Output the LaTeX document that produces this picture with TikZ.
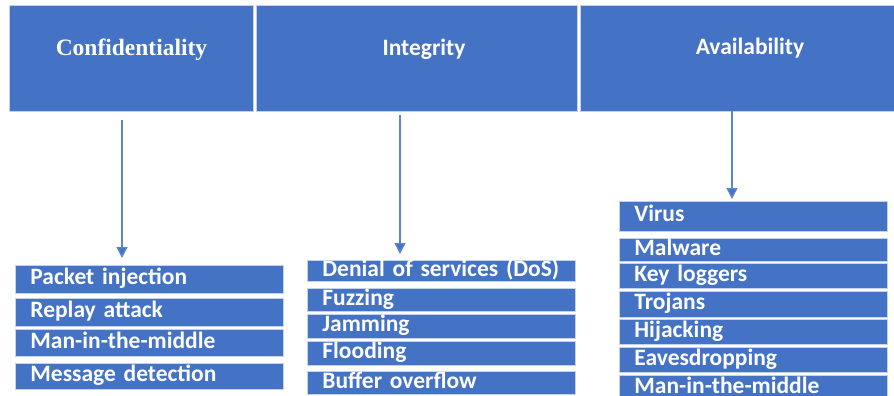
\documentclass[tikz,border=0pt]{standalone}
\usepackage{fontspec}
\setmainfont{Carlito}
\newfontfamily\serifbold{Liberation Serif}
\usetikzlibrary{arrows.meta}
\definecolor{boxblue}{HTML}{4472C4}
\definecolor{edgeblue}{HTML}{C5D2EC}
\definecolor{lineblue}{HTML}{5B86CF}
\tikzset{
  hdr/.style={fill=boxblue, draw=edgeblue, line width=1pt, anchor=north west, inner sep=0pt},
  htxt/.style={text=white, font=\fontsize{23.5}{25}\selectfont\bfseries, inner sep=0pt, anchor=base},
  hser/.style={text=white, font=\serifbold\fontsize{23.5}{25}\selectfont\bfseries, inner sep=0pt, anchor=base},
  row/.style={fill=boxblue, draw=edgeblue, line width=0.8pt, anchor=north west, inner xsep=15pt, inner ysep=0pt,
    text=white, font=\fontsize{23.5}{24}\selectfont\bfseries, align=left, text height=16pt, text depth=5pt},
  arr/.style={draw=lineblue, line width=1.4pt, -{Triangle[width=11pt,length=11pt,fill=boxblue]}}
}
\begin{document}
\begin{tikzpicture}[x=1pt,y=-1pt]
\useasboundingbox (0,0) rectangle (894,396);
% headers
\node[hdr, minimum width=244pt, minimum height=106pt] (hc) at (9,5) {};
\node[hdr, minimum width=321pt, minimum height=106pt] (hi) at (256,5) {};
\node[hdr, minimum width=340pt, minimum height=106pt] (ha) at (580,5) {};
\node[hser] (tc) at (131.5,56) {Confidentiality};
\node[htxt] (ti) at (424,56) {Integrity};
\node[htxt] (ta) at (750,55) {Availability};
% confidentiality list
\node[row, text width=238pt, minimum height=28pt] (c1) at (15,265) {Packet injection};
\node[row, text width=238pt, minimum height=28pt] (c2) at (15,298) {Replay attack};
\node[row, text width=238pt, minimum height=27pt] (c3) at (15,329) {Man-in-the-middle};
\node[row, text width=238pt, minimum height=26pt] (c4) at (15,363) {Message detection};
% integrity list
\node[row, text width=238pt, minimum height=21pt] (i1) at (307,260) {Denial of services (DoS)};
\node[row, text width=238pt, minimum height=23pt] (i2) at (307,288) {Fuzzing};
\node[row, text width=238pt, minimum height=24pt] (i3) at (307,314) {Jamming};
\node[row, text width=238pt, minimum height=24pt] (i4) at (307,341) {Flooding};
\node[row, text width=238pt, minimum height=23pt] (i5) at (307,371) {Buffer overflow};
% availability list
\node[row, text width=238pt, minimum height=30pt] (a1) at (619,201) {Virus};
\node[row, text width=238pt, minimum height=23pt] (a2) at (619,238) {Malware};
\node[row, text width=238pt, minimum height=25pt] (a3) at (619,263) {Key loggers};
\node[row, text width=238pt, minimum height=26pt] (a4) at (619,291) {Trojans};
\node[row, text width=238pt, minimum height=25pt] (a5) at (619,319) {Hijacking};
\node[row, text width=238pt, minimum height=25pt] (a6) at (619,347) {Eavesdropping};
\node[row, text width=238pt, minimum height=25pt] (a7) at (619,375) {Man-in-the-middle};
% arrows
\coordinate (sc) at (122,120);
\coordinate (si) at (400,115);
\coordinate (sa) at (732,111);
\draw[arr] (sc) -- ([yshift=7pt]c1.north -| sc);
\draw[arr] (si) -- ([yshift=6pt]i1.north -| si);
\draw[arr] (sa) -- ([yshift=2pt]a1.north -| sa);
\end{tikzpicture}
\end{document}
